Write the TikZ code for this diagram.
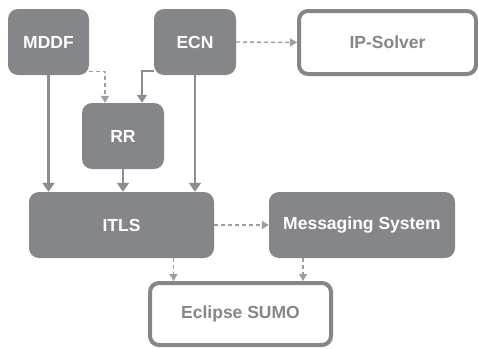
\documentclass[tikz,border=0pt]{standalone}
\usepackage{fontspec}
\setmainfont{Liberation Sans}
\usepackage{tikz}
\usetikzlibrary{arrows.meta, positioning, calc}
\definecolor{boxgray}{RGB}{133,134,137}
\definecolor{linegray}{RGB}{140,141,144}
\tikzstyle{block} = [rectangle, rounded corners=10pt, fill=boxgray, text=white, font=\fontsize{17.5}{20}\selectfont\bfseries, minimum height=66pt, inner sep=0pt]
\tikzstyle{outbox} = [rectangle, rounded corners=9pt, draw=boxgray, line width=4pt, fill=white, text=boxgray, font=\fontsize{17.5}{20}\selectfont\bfseries, minimum height=63pt, inner sep=0pt]
\tikzstyle{arrow} = [-{Triangle[length=9pt, width=12pt]}, line width=2.4pt, draw=linegray]
\tikzstyle{dasharrow} = [-{Triangle[length=7pt, width=8pt]}, line width=1.4pt, dash pattern=on 4pt off 3pt, draw=linegray!85]

\begin{document}
\begin{tikzpicture}[x=1pt, y=-1pt]
    \useasboundingbox (0,0) rectangle (478,348);
    \node[block, minimum width=81pt] (MDDF) at (48.5,42) {MDDF};
    \node[block, minimum width=82pt] (ECN) at (195,42) {ECN};
    \node[outbox, minimum width=177pt] (IPS) at (387.5,42.5) {IP-Solver};
    \node[block, minimum width=82pt] (RR) at (123,136) {RR};
    \node[block, minimum width=185pt] (ITLS) at (121.5,225) {ITLS};
    \node[block, minimum width=186pt] (MS) at (362,225) {Messaging System};
    \node[outbox, minimum width=181pt, minimum height=62pt] (SUMO) at (240.5,314) {Eclipse SUMO};

    \draw[arrow] (MDDF.south) -- (MDDF.south |- ITLS.north);
    \draw[arrow] (RR.south) -- (ITLS.north -| RR.south);
    \draw[arrow] (ECN.south) -- (ECN.south |- ITLS.north);
    \draw[dasharrow] ([yshift=4pt]MDDF.south east) -| ([xshift=-18pt]RR.north);
    \draw[arrow, line width=1.6pt, -{Triangle[length=8pt, width=10pt]}]
        ([yshift=4pt]ECN.south west) -| ([xshift=19pt]RR.north);
    \draw[dasharrow] (ECN.east) -- (IPS.west);
    \draw[dasharrow] (ITLS.east) -- (MS.west);
    \draw[dasharrow] ([xshift=52pt]ITLS.south) -- ([xshift=52pt]ITLS.south |- SUMO.north);
    \draw[dasharrow] ([xshift=-59pt]MS.south) -- ([xshift=-59pt]MS.south |- SUMO.north);
\end{tikzpicture}
\end{document}
